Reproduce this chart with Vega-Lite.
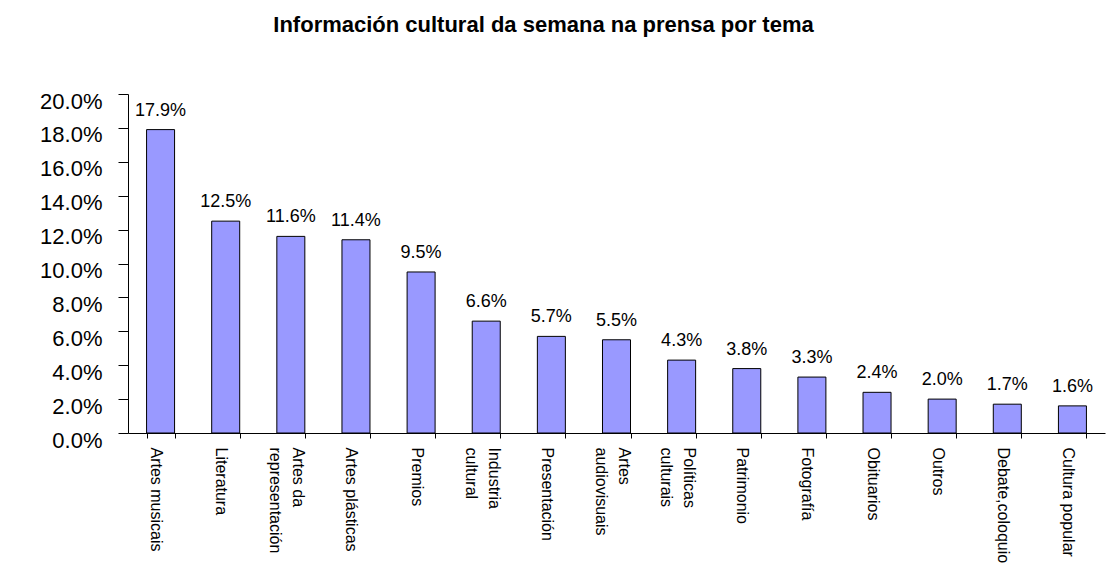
{
  "$schema": "https://vega.github.io/schema/vega-lite/v6.json",
  "width": 977,
  "height": 339,
  "autosize": {"type": "none"},
  "padding": {"left": 128, "top": 94, "right": 8, "bottom": 152},
  "background": "white",
  "title": {
    "text": "Información cultural da semana na prensa por tema",
    "fontSize": 22,
    "font": "Liberation Sans",
    "fontWeight": "bold",
    "anchor": "middle",
    "frame": "group",
    "dx": -73,
    "offset": 36,
    "baseline": "alphabetic",
    "color": "black"
  },
  "data": {
    "values": [
      {"tema": "Artes musicais", "pct": 0.179},
      {"tema": "Literatura", "pct": 0.125},
      {"tema": "Artes da representación", "pct": 0.116},
      {"tema": "Artes plásticas", "pct": 0.114},
      {"tema": "Premios", "pct": 0.095},
      {"tema": "Industria cultural", "pct": 0.066},
      {"tema": "Presentación", "pct": 0.057},
      {"tema": "Artes audiovisuais", "pct": 0.055},
      {"tema": "Políticas culturais", "pct": 0.043},
      {"tema": "Patrimonio", "pct": 0.038},
      {"tema": "Fotografía", "pct": 0.033},
      {"tema": "Obituarios", "pct": 0.024},
      {"tema": "Outros", "pct": 0.020},
      {"tema": "Debate,coloquio", "pct": 0.017},
      {"tema": "Cultura popular", "pct": 0.016}
    ]
  },
  "encoding": {
    "x": {
      "field": "tema",
      "type": "nominal",
      "sort": null,
      "scale": {"paddingInner": 0.57, "paddingOuter": 0.285},
      "axis": {
        "title": null,
        "labelAngle": 90,
        "labelFontSize": 16,
        "labelColor": "black",
        "labelPadding": 9,
        "tickSize": 5,
        "tickColor": "black",
        "domainColor": "black",
        "tickBand": "extent",
        "labelLineHeight": 23,
        "labelOffset": {
          "condition": {"test": "indexof(['Artes da representación','Industria cultural','Artes audiovisuais','Políticas culturais'], datum.label) >= 0", "value": 7},
          "value": -5
        },
        "labelLimit": 0,
        "labelExpr": "indexof(['Artes da representación','Industria cultural','Artes audiovisuais','Políticas culturais'], datum.label) >= 0 ? [slice(datum.label, 0, lastindexof(datum.label, ' ')), slice(datum.label, lastindexof(datum.label, ' ') + 1)] : datum.label"
      }
    },
    "y": {
      "field": "pct",
      "type": "quantitative",
      "scale": {"domain": [0, 0.2]},
      "axis": {
        "title": null,
        "values": [0, 0.02, 0.04, 0.06, 0.08, 0.1, 0.12, 0.14, 0.16, 0.18, 0.2],
        "format": ".1%",
        "labelFontSize": 22,
        "labelColor": "black",
        "tickSize": 10,
        "tickColor": "black",
        "domainColor": "black",
        "grid": false,
        "labelPadding": 16,
        "labelOffset": 7
      }
    }
  },
  "layer": [
    {"mark": {"type": "bar", "fill": "#9999FF", "stroke": "black", "strokeWidth": 1}},
    {
      "mark": {"type": "text", "dy": -14, "baseline": "alphabetic", "fontSize": 18, "color": "black"},
      "encoding": {"text": {"field": "pct", "format": ".1%"}}
    }
  ],
  "config": {"view": {"stroke": null}, "font": "Liberation Sans"}
}
